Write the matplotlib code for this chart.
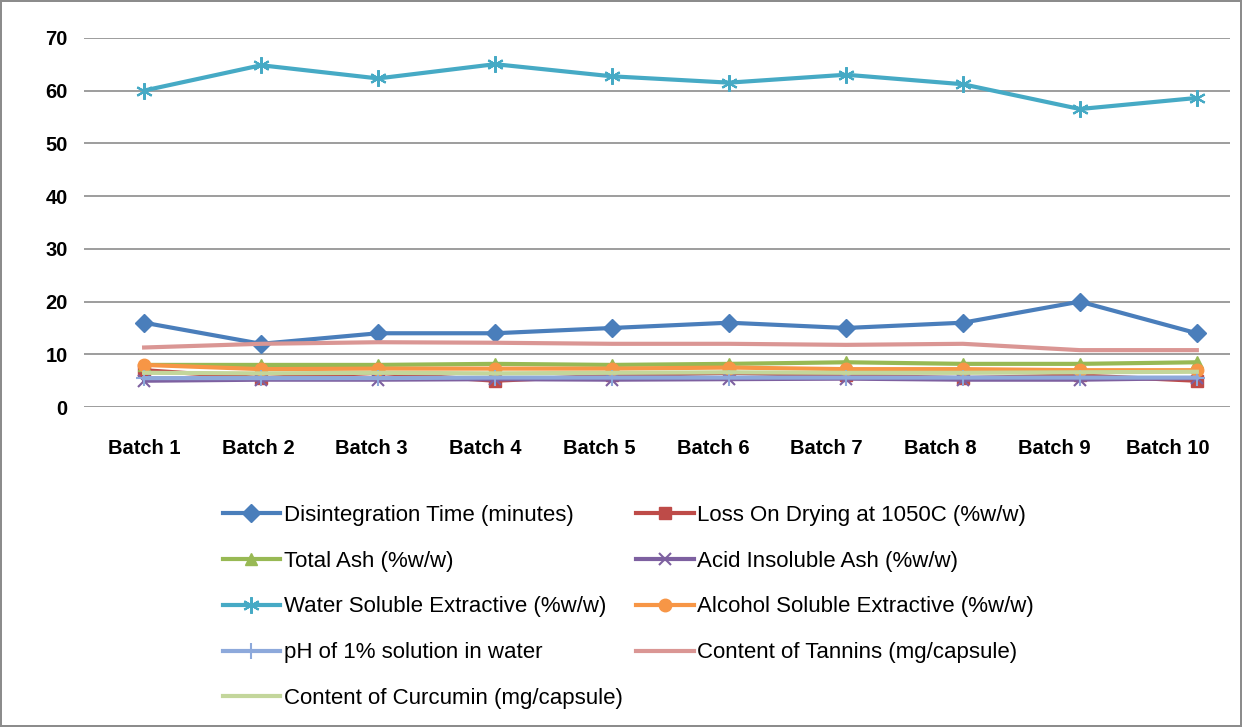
import numpy as np
import matplotlib.pyplot as plt
from matplotlib.transforms import ScaledTranslation

plt.rcParams['font.family'] = ['Liberation Sans Narrow', 'Liberation Sans', 'DejaVu Sans']

batches = ["Batch 1", "Batch 2", "Batch 3", "Batch 4", "Batch 5",
           "Batch 6", "Batch 7", "Batch 8", "Batch 9", "Batch 10"]

disintegration = [16, 12, 14, 14, 15, 16, 15, 16, 20, 14]
loss_on_drying = [7.0, 5.5, 6.5, 5.0, 6.0, 6.5, 6.0, 5.5, 6.0, 5.0]
total_ash = [8.0, 8.0, 8.0, 8.2, 8.0, 8.2, 8.5, 8.2, 8.2, 8.5]
acid_insoluble = [5.0, 5.2, 5.2, 5.3, 5.2, 5.3, 5.4, 5.2, 5.2, 5.5]
water_soluble = [60, 64.8, 62.3, 65, 62.7, 61.5, 63, 61.2, 56.5, 58.6]
alcohol_soluble = [8.0, 7.2, 7.3, 7.3, 7.3, 7.5, 7.2, 7.2, 7.0, 7.0]
ph = [5.5, 5.5, 5.5, 5.6, 5.6, 5.6, 5.6, 5.6, 5.6, 5.6]
tannins = [11.3, 12.0, 12.3, 12.2, 12.0, 12.0, 11.8, 12.0, 10.8, 10.8]
curcumin = [6.5, 6.4, 6.5, 6.4, 6.5, 6.6, 6.5, 6.5, 6.6, 6.7]

series = [
    ("Disintegration Time (minutes)", disintegration, "#4A7EBB", "D", 9),
    ("Loss On Drying at 1050C (%w/w)", loss_on_drying, "#BE4B48", "s", 8),
    ("Total Ash (%w/w)", total_ash, "#98B954", "^", 9),
    ("Acid Insoluble Ash (%w/w)", acid_insoluble, "#7D60A0", "x", 9),
    ("Water Soluble Extractive (%w/w)", water_soluble, "#46AAC5", (6, 2, 0), 12),
    ("Alcohol Soluble Extractive (%w/w)", alcohol_soluble, "#F79646", "o", 9),
    ("pH of 1% solution in water", ph, "#8DA9DB", "+", 12),
    ("Content of Tannins (mg/capsule)", tannins, "#DA9694", None, 0),
    ("Content of Curcumin (mg/capsule)", curcumin, "#C3D69B", None, 0),
]

fig = plt.figure(figsize=(12.42, 7.27), dpi=100)
fig.patch.set_edgecolor('#8c8c8c')
fig.patch.set_linewidth(1.5)
ax = fig.add_axes([0.068, 0.44, 0.922, 0.508])

x = np.arange(len(batches))
handles = []
for name, vals, col, mk, ms in series:
    h, = ax.plot(x, vals, color=col, lw=3, marker=mk, markersize=ms,
                 markeredgewidth=1.5 if mk in ("x", "+", (6, 2, 0)) else 1,
                 markeredgecolor=col, label=name)
    handles.append(h)

ax.set_ylim(0, 70)
ax.set_yticks(range(0, 71, 10))
ax.set_xlim(-0.51, 9.28)
ax.set_xticks(x)
ax.set_xticklabels(batches)
ax.yaxis.grid(True, color='#8c8c8c', lw=1.2)
ax.set_axisbelow(True)
for s in ax.spines.values():
    s.set_visible(False)
ax.tick_params(length=0, labelsize=14.5, pad=12)
for lab in ax.get_xticklabels() + ax.get_yticklabels():
    lab.set_fontweight('bold')
ax.tick_params(axis='x', pad=23)
# category labels sit slightly left of the markers in the original
for i, lab in enumerate(ax.get_xticklabels()):
    lab.set_transform(lab.get_transform() + ScaledTranslation(-i * 0.032, 0, fig.dpi_scale_trans))

order = [0, 2, 4, 6, 8, 1, 3, 5, 7]
fig.legend([handles[i] for i in order], [handles[i].get_label() for i in order],
           ncol=2, loc='upper left', bbox_to_anchor=(0.172, 0.318),
           frameon=False, fontsize=16, labelspacing=1.12,
           handlelength=2.6, handletextpad=0.15, columnspacing=0.6,
           borderaxespad=0)

fig.savefig("out.png", dpi=100)
